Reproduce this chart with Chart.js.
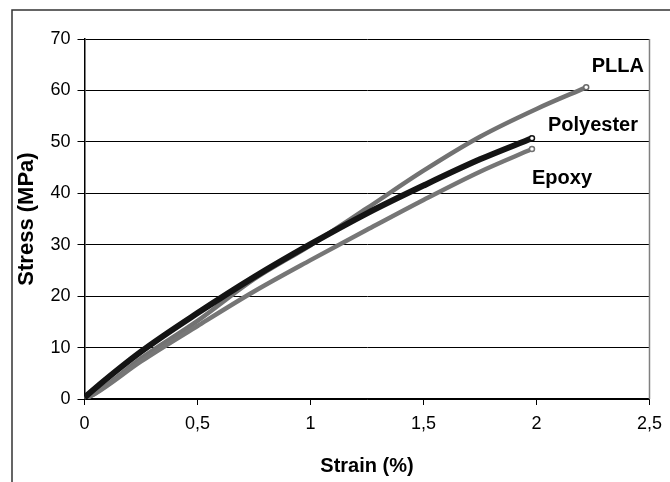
<!DOCTYPE html>
<html>
<head>
<meta charset="utf-8">
<script src="https://cdn.jsdelivr.net/npm/chart.js@4"></script>
<style>
  html, body { margin: 0; padding: 0; background: #ffffff; }
  #wrap { width: 670px; height: 482px; }
</style>
</head>
<body>
<div id="wrap"><canvas id="c" width="670" height="482"></canvas></div>
<script>
// ---- data ----
const pllaStrain      = [0, 0.05, 0.25, 0.5, 0.75, 1.0, 1.25, 1.5, 1.75, 2.0, 2.22];
const pllaStress      = [0, 1.2, 7.9, 15.2, 23.3, 29.9, 37.1, 44.4, 51.0, 56.4, 60.6];
const polyesterStrain = [0, 0.05, 0.25, 0.5, 0.75, 1.0, 1.25, 1.5, 1.75, 1.98];
const polyesterStress = [0.3, 2.2, 9.2, 16.7, 23.7, 30.1, 36.1, 41.5, 46.6, 50.7];
const epoxyStrain     = [0, 0.05, 0.25, 0.5, 0.75, 1.0, 1.25, 1.5, 1.75, 1.98];
const epoxyStress     = [0, 1.1, 7.3, 14.2, 20.9, 27.0, 32.9, 38.7, 44.2, 48.6];

const seriesNames = ['PLLA', 'Polyester', 'Epoxy'];
const xTicks = [0, 0.5, 1, 1.5, 2, 2.5];
const yTicks = [0, 10, 20, 30, 40, 50, 60, 70];
// label anchors (data coordinates)
const labelStrain = [2.36, 2.25, 2.113];
const labelStress = [64.6, 53.2, 42.9];

function pts(xs, ys) { return xs.map((x, i) => ({ x: x, y: ys[i] })); }
function endRadius(n) { return Array.from({ length: n }, (_, i) => (i === n - 1 ? 2.5 : 0)); }

const FONT = "'Liberation Sans', Arial, Helvetica, sans-serif";

const framePlugin = {
  id: 'frame',
  beforeDraw(chart) {
    const ctx = chart.ctx;
    ctx.save();
    ctx.fillStyle = '#ffffff';
    ctx.fillRect(0, 0, chart.width, chart.height);
    ctx.strokeStyle = '#333333';
    ctx.lineWidth = 1.5;
    ctx.beginPath();
    ctx.moveTo(12, chart.height);
    ctx.lineTo(12, 10);
    ctx.lineTo(chart.width, 10);
    ctx.stroke();
    ctx.restore();
  },
  afterDraw(chart) {
    const ctx = chart.ctx;
    const a = chart.chartArea;
    ctx.save();
    ctx.strokeStyle = '#808080';
    ctx.lineWidth = 1.5;
    ctx.beginPath();
    ctx.moveTo(a.right, a.top);
    ctx.lineTo(a.right, a.bottom);
    ctx.stroke();
    // series labels
    const xs = chart.scales.x, ys = chart.scales.y;
    ctx.fillStyle = '#000000';
    ctx.font = "bold 20px " + FONT;
    ctx.textAlign = 'center';
    ctx.textBaseline = 'middle';
    seriesNames.forEach((name, i) => {
      ctx.fillText(name, xs.getPixelForValue(labelStrain[i]), ys.getPixelForValue(labelStress[i]));
    });
    ctx.restore();
  }
};

new Chart(document.getElementById('c'), {
  type: 'line',
  data: {
    datasets: [
      {
        label: seriesNames[0],
        data: pts(pllaStrain, pllaStress),
        borderColor: '#727272',
        borderWidth: 4.5,
        pointRadius: endRadius(pllaStrain.length),
        pointBackgroundColor: '#ffffff',
        pointBorderColor: '#6a6a6a',
        pointBorderWidth: 1.5,
        cubicInterpolationMode: 'monotone',
        order: 3
      },
      {
        label: seriesNames[1],
        data: pts(polyesterStrain, polyesterStress),
        borderColor: '#141414',
        borderWidth: 6,
        pointRadius: endRadius(polyesterStrain.length),
        pointBackgroundColor: '#ffffff',
        pointBorderColor: '#141414',
        pointBorderWidth: 1.5,
        cubicInterpolationMode: 'monotone',
        order: 1
      },
      {
        label: seriesNames[2],
        data: pts(epoxyStrain, epoxyStress),
        borderColor: '#767676',
        borderWidth: 4.5,
        pointRadius: endRadius(epoxyStrain.length),
        pointBackgroundColor: '#ffffff',
        pointBorderColor: '#727272',
        pointBorderWidth: 1.5,
        cubicInterpolationMode: 'monotone',
        order: 2
      }
    ]
  },
  options: {
    responsive: false,
    animation: false,
    devicePixelRatio: 1,
    layout: { padding: { left: 0, top: 39, right: 20, bottom: 0 } },
    plugins: {
      legend: { display: false },
      tooltip: { enabled: false }
    },
    scales: {
      x: {
        type: 'linear',
        min: 0, max: 2.5,
        afterBuildTicks(scale) { scale.ticks = xTicks.map(v => ({ value: v })); },
        afterFit(scale) { scale.height = 83; },
        ticks: {
          color: '#000000',
          font: { family: FONT, size: 18 },
          padding: 8,
          maxRotation: 0,
          callback: v => String(v).replace('.', ',')
        },
        grid: {
          drawOnChartArea: false,
          drawTicks: true,
          tickLength: 6,
          color: '#000000',
          lineWidth: 1
        },
        border: { display: true, color: '#000000', width: 1.5 },
        title: {
          display: true,
          text: 'Strain (%)',
          color: '#000000',
          font: { family: FONT, size: 20, weight: 'bold' },
          padding: { top: 0, bottom: 4 }
        }
      },
      y: {
        type: 'linear',
        min: 0, max: 70,
        afterBuildTicks(scale) { scale.ticks = yTicks.map(v => ({ value: v })); },
        afterFit(scale) { scale.width = 84.5; },
        ticks: {
          color: '#000000',
          font: { family: FONT, size: 18 },
          padding: 7
        },
        grid: {
          drawOnChartArea: true,
          drawTicks: true,
          tickLength: 7,
          color: '#000000',
          lineWidth: 1
        },
        border: { display: true, color: '#000000', width: 1.5 },
        title: {
          display: true,
          text: 'Stress (MPa)',
          color: '#000000',
          font: { family: FONT, size: 22, weight: 'bold' },
          padding: { top: 14, bottom: 0 }
        }
      }
    }
  },
  plugins: [framePlugin]
});
</script>
</body>
</html>
